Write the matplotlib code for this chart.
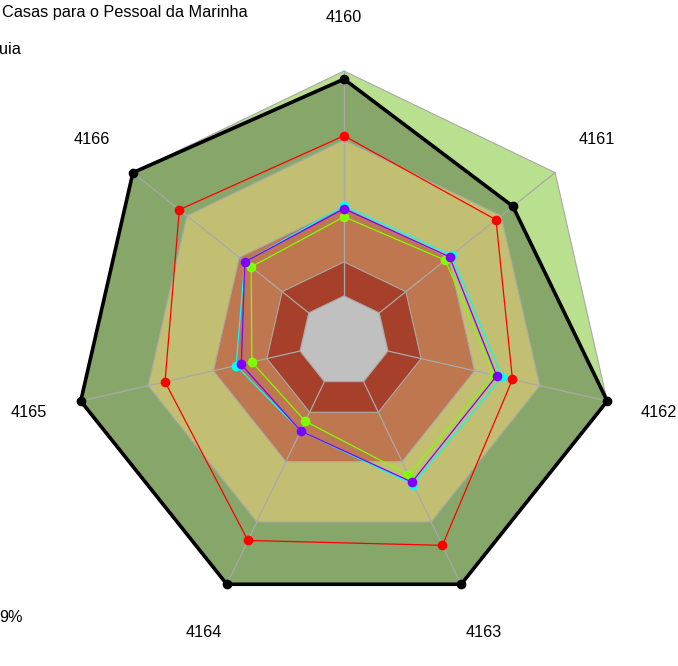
import numpy as np
import matplotlib
matplotlib.use("Agg")
import matplotlib.pyplot as plt
from matplotlib.patches import Polygon

plt.rcParams['font.family'] = ['Liberation Sans', 'DejaVu Sans']

categories = ["4160", "4161", "4162", "4163", "4164", "4165", "4166"]
band_limits = [16.7, 29.3, 49.6, 74.4, 100.0]
band_colors = ["#C0C0C0", "#A7402A", "#BF774F", "#C2BE72", "#B9E08E"]
olive_color = "#87A66A"

series_black = [97, 80, 100, 100, 100, 100, 100]
series_red = [76, 72, 64, 84, 82, 68, 78]
series_lime = [46, 48, 57, 55, 33, 35, 44]
series_cyan = [50, 51, 60, 59, 37, 41, 47]
series_purple = [49, 50, 58, 58, 37, 39, 47]

title_text = "Casas para o Pessoal da Marinha"
subtitle_text = "uia"
footer_text = "9%"

W, H = 678, 666
fig = plt.figure(figsize=(W / 100, H / 100), dpi=100)
ax = fig.add_axes([0, 0, 1, 1])
ax.set_axis_off()
scale = 2.7  # px per unit
cx, cy = 344, 341
ax.set_xlim(-cx / scale, (W - cx) / scale)
ax.set_ylim(-(H - cy) / scale, cy / scale)
ax.set_aspect('equal')

n = len(categories)
ang = np.pi / 2 - np.arange(n) * 2 * np.pi / n


def pts(vals):
    v = np.asarray(vals, dtype=float)
    return np.column_stack([v * np.cos(ang), v * np.sin(ang)])


grid_col = "#A9A9A9"
# outer band
ax.add_patch(Polygon(pts([band_limits[4]] * n), closed=True, facecolor=band_colors[4],
                     edgecolor=grid_col, lw=0.8, zorder=1))
# inside of black series: olive
ax.add_patch(Polygon(pts(series_black), closed=True, facecolor=olive_color,
                     edgecolor='none', zorder=2))
# inner bands
for lim, col in zip(band_limits[3::-1], band_colors[3::-1]):
    ax.add_patch(Polygon(pts([lim] * n), closed=True, facecolor=col,
                         edgecolor=grid_col, lw=0.8, zorder=3))

# spokes
for a in ang:
    ax.plot([band_limits[0] * np.cos(a), band_limits[4] * np.cos(a)],
            [band_limits[0] * np.sin(a), band_limits[4] * np.sin(a)],
            color=grid_col, lw=0.9, zorder=4)

# series
def draw(vals, color, lw, ms, z):
    p = pts(vals)
    p = np.vstack([p, p[:1]])
    ax.plot(p[:, 0], p[:, 1], color=color, lw=lw, zorder=z)
    ax.plot(p[:-1, 0], p[:-1, 1], 'o', color=color, ms=ms, mec='none', zorder=z + 0.5)

draw(series_black, "black", 2.6, 7, 5)
draw(series_red, "#FF0000", 0.9, 7, 6)
draw(series_lime, "#80FF00", 0.9, 7, 7)
draw(series_cyan, "#00FFFF", 0.9, 7, 8)
draw(series_purple, "#7F00FF", 0.9, 7, 9)

# labels
for lab, a in zip(categories, ang):
    r = 323 / scale
    ax.text(r * np.cos(a), r * np.sin(a), lab, ha='center', va='center',
            fontsize=11.7, color='black', zorder=10)

fig.text(2 / W, 1 - 13 / H, title_text, ha='left', va='center', fontsize=11.7)
fig.text(-1 / W, 1 - 50 / H, subtitle_text, ha='left', va='center', fontsize=11.7)
fig.text(-1 / W, 1 - 617 / H, footer_text, ha='left', va='center', fontsize=11.7)

fig.savefig("out.png", dpi=100)
